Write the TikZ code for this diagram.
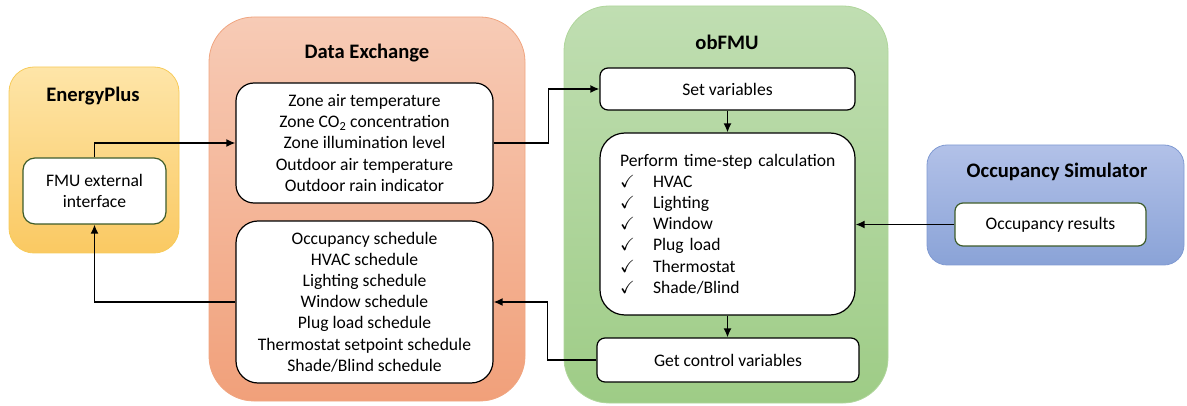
\documentclass[tikz,border=0pt]{standalone}
\usepackage{fontspec}
\setmainfont{Carlito}
\usepackage{amssymb}
\usepackage{amsmath}
\usepackage{tikz}
\usetikzlibrary{arrows,arrows.meta,positioning}
%Farben der vier Bloecke (oben hell, unten dunkler)
\definecolor{epOben}{RGB}{254,229,168}
\definecolor{epUnten}{RGB}{250,201,98}
\definecolor{epRand}{RGB}{247,203,90}
\definecolor{deOben}{RGB}{247,203,182}
\definecolor{deUnten}{RGB}{241,160,122}
\definecolor{deRand}{RGB}{240,165,128}
\definecolor{obOben}{RGB}{192,222,178}
\definecolor{obUnten}{RGB}{158,204,134}
\definecolor{obRand}{RGB}{176,214,156}
\definecolor{osOben}{RGB}{178,193,232}
\definecolor{osUnten}{RGB}{138,163,215}
\definecolor{osRand}{RGB}{128,154,210}
\definecolor{gruenRand}{RGB}{62,92,42}

\begin{document}
\begin{tikzpicture}[x=1pt,y=-1pt,
  behaelter/.style={draw, rounded corners=#1, line width=0.8pt, inner sep=0pt},
  titel/.style={font=\fontsize{20.6}{24}\selectfont\bfseries, inner sep=0pt},
  kasten/.style={draw=black, fill=white, rounded corners=#1, line width=1.2pt, inner sep=0pt, align=center, font=\fontsize{17.6}{21.2}\selectfont},
  pfeil/.style={line width=1.5pt, -{Latex[length=9pt,width=8pt]}}]
\useasboundingbox (0,0) rectangle (1187,406);
%EnergyPlus
\node[behaelter=25pt, draw=epRand, top color=epOben, bottom color=epUnten, minimum width=170pt, minimum height=186pt] (energyplus) at (94,160) {};
\node[titel] (eptitel) at (93,96) {EnergyPlus};
\node[kasten=12pt, draw=gruenRand, minimum width=143pt, minimum height=66pt] (fmu) at (94.5,191) {FMU external\\interface};
%Data Exchange
\node[behaelter=45pt, draw=deRand, top color=deOben, bottom color=deUnten, minimum width=316pt, minimum height=384pt] (datenaustausch) at (367,209) {};
\node[titel] (detitel) at (367,53) {Data Exchange};
\node[kasten=18pt, minimum width=257pt, minimum height=120pt] (dein) at (364.5,143) {Zone air temperature\\Zone CO\textsubscript{2} concentration\\Zone illumination level\\Outdoor air temperature\\Outdoor rain indicator};
\node[kasten=22pt, minimum width=257pt, minimum height=162pt] (deaus) at (364.5,302) {Occupancy schedule\\HVAC schedule\\Lighting schedule\\Window schedule\\Plug load schedule\\Thermostat setpoint schedule\\Shade/Blind schedule};
%obFMU
\node[behaelter=45pt, draw=obRand, top color=obOben, bottom color=obUnten, minimum width=324pt, minimum height=397pt] (obfmu) at (726,204.5) {};
\node[titel] (obtitel) at (727,42) {obFMU};
\node[kasten=8pt, minimum width=255pt, minimum height=42pt] (setzen) at (727.5,89) {Set variables};
\node[kasten=25pt, minimum width=255pt, minimum height=182pt, text width=215pt, align=left] (rechnen) at (727.5,224) {\mbox{Perform time-step calculation}\\
\makebox[33pt][l]{$\checkmark$}HVAC\\
\makebox[33pt][l]{$\checkmark$}Lighting\\
\makebox[33pt][l]{$\checkmark$}Window\\
\makebox[33pt][l]{$\checkmark$}Plug load\\
\makebox[33pt][l]{$\checkmark$}Thermostat\\
\makebox[33pt][l]{$\checkmark$}Shade/Blind};
\node[kasten=8pt, minimum width=262pt, minimum height=44pt] (holen) at (728,360) {Get control variables};
%Occupancy Simulator
\node[behaelter=20pt, draw=osRand, top color=osOben, bottom color=osUnten, minimum width=257pt, minimum height=120pt] (occsim) at (1055.5,205) {};
\node[titel] (ostitel) at (1057,172) {Occupancy Simulator};
\node[kasten=8pt, draw=gruenRand, minimum width=191pt, minimum height=43pt] (occres) at (1050.5,224.5) {Occupancy results};
%Verbindungen
\draw[pfeil] (fmu.north) |- (dein.west);
\draw[pfeil] (dein.east) -- ++(55,0) |- (setzen.west);
\draw[pfeil] (setzen.south) -- (rechnen.north);
\draw[pfeil] (rechnen.south) -- (rechnen.south |- holen.north);
\draw[pfeil] (occres.west) -- (occres.west -| rechnen.east);
\draw[pfeil] (holen.west) -- ++(-49,0) |- (deaus.east);
\draw[pfeil] (deaus.west) -| (fmu.south);
\end{tikzpicture}
\end{document}
